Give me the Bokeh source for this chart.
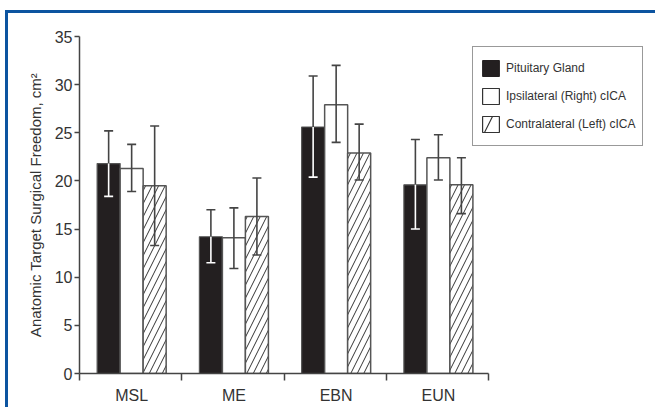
from bokeh.plotting import figure
from bokeh.models import FixedTicker, Range1d, Legend, LegendItem, ColumnDataSource
from bokeh.embed import file_html
from bokeh.resources import INLINE

categories = ["MSL", "ME", "EBN", "EUN"]
series_names = ["Pituitary Gland", "Ipsilateral (Right) cICA", "Contralateral (Left) cICA"]

pituitary = [21.8, 14.2, 25.6, 19.6]
pituitary_hi = [25.2, 17.0, 30.9, 24.3]
pituitary_lo = [18.4, 11.5, 20.4, 15.0]

ipsilateral = [21.3, 14.1, 27.9, 22.4]
ipsilateral_hi = [23.8, 17.2, 32.0, 24.8]
ipsilateral_lo = [18.9, 10.9, 24.0, 20.1]

contralateral = [19.5, 16.3, 22.9, 19.6]
contralateral_hi = [25.7, 20.3, 25.9, 22.4]
contralateral_lo = [13.3, 12.3, 20.1, 16.6]

y_ticks = [0, 5, 10, 15, 20, 25, 30, 35]

FONT = "Liberation Sans"
AX = "#444444"
BLUE = "#0c54a0"

n = len(categories)
x_end = n * 566 / 409.0  # extra room on the right for the legend

p = figure(width=655, height=407, output_backend="svg", toolbar_location=None,
           x_range=Range1d(0, x_end), y_range=Range1d(0, 35),
           min_border_left=79, min_border_top=36, min_border_bottom=34, min_border_right=10)
p.styles = {"background": (f"linear-gradient({BLUE}, {BLUE}) 5px 10px / 3px 100% no-repeat, "
                           f"linear-gradient({BLUE}, {BLUE}) 5px 10px / 100% 3px no-repeat, white")}
p.outline_line_color = None
p.grid.visible = False
p.background_fill_color = None
p.border_fill_color = None

bw = 0.225
offs = [-0.225, 0.0, 0.225]
centers = [i + 0.51 for i in range(n)]

def xs(k):
    return [c + offs[k] for c in centers]

src0 = ColumnDataSource(dict(x=xs(0), top=pituitary, hi=pituitary_hi, lo=pituitary_lo))
src1 = ColumnDataSource(dict(x=xs(1), top=ipsilateral, hi=ipsilateral_hi, lo=ipsilateral_lo))
src2 = ColumnDataSource(dict(x=xs(2), top=contralateral, hi=contralateral_hi, lo=contralateral_lo))

p.vbar(x="x", top="top", bottom=0, width=bw, source=src0, fill_color="#231f20",
       line_color="#555555", line_width=1.2)
p.vbar(x="x", top="top", bottom=0, width=bw, source=src1, fill_color="white",
       line_color="#555555", line_width=1.5)
p.vbar(x="x", top="top", bottom=0, width=bw, source=src2, fill_color="white",
       line_color="#555555", line_width=1.5, hatch_pattern="right_diagonal_line",
       hatch_color="#333333", hatch_scale=13, hatch_weight=1.0)

# error bars
for src, inner in [(src0, "white"), (src1, AX), (src2, AX)]:
    p.segment(x0="x", y0="top", x1="x", y1="hi", source=src, line_color=AX, line_width=1.6)
    p.segment(x0="x", y0="lo", x1="x", y1="top", source=src, line_color=inner, line_width=1.6)
    p.dash(x="x", y="hi", size=9, source=src, line_color=AX, line_width=1.6)
    p.dash(x="x", y="lo", size=9, source=src, line_color=inner, line_width=1.6)

# legend-only renderers (NaN data: nothing drawn in the plot)
nan = float("nan")
d0 = p.vbar(x=[nan], top=[nan], width=bw, fill_color="#231f20", line_color="#231f20", line_width=1)
d1 = p.vbar(x=[nan], top=[nan], width=bw, fill_color="white", line_color="#333333", line_width=1.2)
d2 = p.vbar(x=[nan], top=[nan], width=bw, fill_color="white", line_color="#333333", line_width=1.2,
            hatch_pattern="right_diagonal_line", hatch_color="#333333", hatch_scale=50, hatch_weight=1.2)
legend = Legend(items=[LegendItem(label=series_names[0], renderers=[d0]),
                       LegendItem(label=series_names[1], renderers=[d1]),
                       LegendItem(label=series_names[2], renderers=[d2])],
                location=(393, 227), orientation="vertical",
                glyph_width=21, glyph_height=20, label_standoff=5, padding=7, spacing=0,
                label_height=28, label_text_font=FONT, label_text_font_size="12px",
                label_text_color="#333333", border_line_color="#333333", border_line_width=1.3,
                background_fill_color="white", background_fill_alpha=1, margin=0)
p.add_layout(legend)

# y axis
p.yaxis.ticker = FixedTicker(ticks=y_ticks)
p.yaxis.axis_line_color = AX
p.yaxis.axis_line_width = 1.5
p.yaxis.major_tick_line_color = AX
p.yaxis.major_tick_line_width = 1.5
p.yaxis.major_tick_out = 5
p.yaxis.major_tick_in = 0
p.yaxis.minor_tick_line_color = None
p.yaxis.major_label_standoff = 2
p.yaxis.major_label_text_font = FONT
p.yaxis.major_label_text_font_size = "16px"
p.yaxis.major_label_text_color = "#333333"
p.yaxis.axis_label = "Anatomic Target Surgical Freedom, cm²"
p.yaxis.axis_label_text_font = FONT
p.yaxis.axis_label_text_font_size = "15px"
p.yaxis.axis_label_text_font_style = "normal"
p.yaxis.axis_label_text_color = "#333333"
p.yaxis.axis_label_standoff = 8

# x axis
p.xaxis.bounds = (0, n)
p.xaxis.ticker = FixedTicker(ticks=centers, minor_ticks=list(range(n + 1)))
p.xaxis.major_label_overrides = {c: lab for c, lab in zip(centers, categories)}
p.xaxis.axis_line_color = AX
p.xaxis.axis_line_width = 1.5
p.xaxis.major_tick_line_color = None
p.xaxis.major_tick_out = 0
p.xaxis.major_tick_in = 0
p.xaxis.minor_tick_line_color = AX
p.xaxis.minor_tick_line_width = 1.5
p.xaxis.minor_tick_out = 7
p.xaxis.minor_tick_in = 0
p.xaxis.major_label_standoff = 6
p.xaxis.major_label_text_font = FONT
p.xaxis.major_label_text_font_size = "16px"
p.xaxis.major_label_text_color = "#333333"

open("out.html", "w").write(file_html(p, INLINE))
